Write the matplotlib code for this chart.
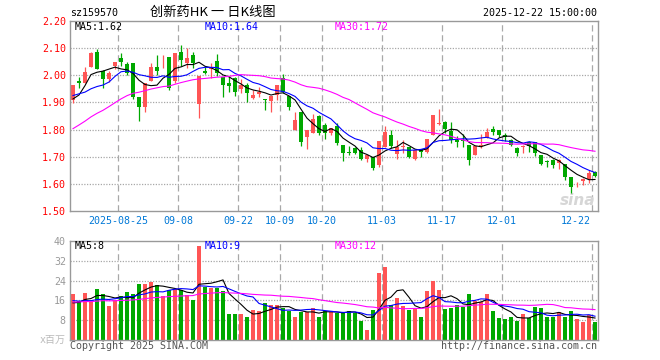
import matplotlib
matplotlib.use("Agg")
import matplotlib.pyplot as plt
import numpy as np
import pandas as pd

# daily K-line, 2025-08-13 .. 2025-12-22 (88 sessions)
open_ = [1.909, 1.980, 1.970, 2.029, 2.087, 2.016, 1.987, 2.034, 2.065, 2.042,
         2.046, 1.919, 1.884, 1.980, 2.029, 2.044, 2.069, 1.980, 2.087, 2.044,
         2.075, 1.896, 2.017, 2.022, 2.052, 1.992, 1.973, 1.989, 1.949, 1.966,
         1.917, 1.930, 1.910, 1.906, 1.927, 1.989, 1.925, 1.798, 1.866, 1.771,
         1.788, 1.850, 1.817, 1.786, 1.813, 1.743, 1.719, 1.733, 1.725, 1.692,
         1.700, 1.670, 1.735, 1.780, 1.710, 1.735, 1.737, 1.692, 1.727, 1.716,
         1.780, 1.821, 1.827, 1.796, 1.763, 1.762, 1.742, 1.705, 1.738, 1.769,
         1.802, 1.798, 1.780, 1.761, 1.731, 1.734, 1.755, 1.755, 1.706, 1.686,
         1.688, 1.678, 1.673, 1.624, 1.602, 1.612, 1.617, 1.645]
high = [1.966, 1.995, 2.032, 2.087, 2.097, 2.018, 2.016, 2.049, 2.081, 2.050,
        2.046, 1.919, 1.970, 2.044, 2.075, 2.075, 2.069, 2.081, 2.112, 2.099,
        2.085, 1.997, 2.034, 2.046, 2.078, 1.992, 1.997, 1.995, 1.985, 1.973,
        1.946, 1.958, 1.912, 1.925, 1.964, 2.005, 1.925, 1.866, 1.866, 1.798,
        1.857, 1.853, 1.823, 1.805, 1.823, 1.743, 1.740, 1.735, 1.735, 1.706,
        1.700, 1.758, 1.815, 1.799, 1.762, 1.762, 1.737, 1.725, 1.727, 1.766,
        1.854, 1.874, 1.833, 1.828, 1.775, 1.783, 1.742, 1.740, 1.782, 1.806,
        1.813, 1.798, 1.788, 1.767, 1.737, 1.743, 1.759, 1.755, 1.706, 1.688,
        1.690, 1.690, 1.673, 1.624, 1.608, 1.620, 1.651, 1.649]
low = [1.899, 1.954, 1.970, 2.029, 2.023, 1.952, 1.976, 2.024, 2.034, 2.000,
       1.911, 1.833, 1.866, 1.980, 2.001, 2.026, 1.946, 1.970, 2.034, 2.026,
       2.026, 1.841, 2.005, 1.989, 1.997, 1.921, 1.939, 1.925, 1.936, 1.903,
       1.912, 1.921, 1.872, 1.866, 1.909, 1.935, 1.872, 1.798, 1.739, 1.728,
       1.788, 1.780, 1.767, 1.780, 1.743, 1.686, 1.706, 1.709, 1.688, 1.682,
       1.651, 1.661, 1.735, 1.731, 1.692, 1.713, 1.697, 1.688, 1.698, 1.713,
       1.780, 1.817, 1.786, 1.750, 1.735, 1.735, 1.670, 1.705, 1.732, 1.769,
       1.780, 1.771, 1.759, 1.739, 1.702, 1.715, 1.718, 1.702, 1.670, 1.661,
       1.657, 1.653, 1.616, 1.565, 1.589, 1.596, 1.604, 1.624]
close = [1.964, 1.973, 2.013, 2.083, 2.023, 1.985, 2.010, 2.049, 2.050, 2.007,
         1.919, 1.884, 1.970, 2.029, 2.017, 2.046, 1.954, 2.081, 2.056, 2.062,
         2.044, 1.997, 2.007, 2.029, 2.009, 1.964, 1.962, 1.939, 1.966, 1.936,
         1.927, 1.939, 1.909, 1.925, 1.964, 1.940, 1.882, 1.835, 1.755, 1.798,
         1.839, 1.788, 1.786, 1.805, 1.749, 1.715, 1.713, 1.715, 1.692, 1.706,
         1.660, 1.758, 1.790, 1.740, 1.735, 1.740, 1.700, 1.725, 1.716, 1.765,
         1.854, 1.824, 1.801, 1.763, 1.754, 1.758, 1.689, 1.738, 1.745, 1.791,
         1.792, 1.780, 1.771, 1.743, 1.712, 1.739, 1.739, 1.712, 1.673, 1.682,
         1.669, 1.688, 1.624, 1.589, 1.605, 1.617, 1.641, 1.629]
# volume, millions
volume = [18.6, 15.7, 19.1, 15.9, 20.6, 18.6, 13.7, 16.1, 17.8, 19.4,
          18.6, 22.7, 22.7, 23.5, 22.3, 17.6, 20.2, 20.5, 20.2, 18.0,
          16.1, 37.8, 21.6, 21.2, 21.0, 19.8, 10.4, 10.4, 10.4, 9.2,
          12.0, 11.6, 14.8, 14.1, 14.0, 12.9, 11.6, 9.2, 11.5, 11.5,
          12.9, 9.2, 11.9, 11.5, 11.1, 11.1, 11.6, 11.1, 7.7, 3.9,
          12.0, 27.1, 29.6, 14.1, 16.9, 13.7, 12.0, 12.6, 9.2, 19.8,
          23.9, 20.2, 12.5, 12.9, 14.0, 13.3, 18.6, 15.7, 15.3, 18.6,
          11.6, 8.8, 8.4, 9.2, 7.7, 10.4, 8.8, 13.3, 12.9, 9.2,
          9.2, 11.2, 9.2, 11.6, 8.4, 7.2, 10.0, 7.2]

# sessions before the window, estimated from where the MA lines start
warmup_close = [1.57, 1.59, 1.61, 1.63, 1.65, 1.60, 1.62, 1.63, 1.65, 1.66,
                1.76, 1.80, 1.85, 1.88, 1.91, 1.90, 1.88, 1.87, 1.90, 1.89,
                1.91, 1.95, 1.96, 1.94, 1.93, 1.90, 1.84, 1.88, 1.98]
warmup_volume = [15, 14, 16, 15, 13, 16, 15, 14, 17, 15,
                 16, 14, 15, 16, 13, 15, 17, 16, 15, 14,
                 18, 17, 16, 16, 17, 15, 13, 14, 14.5]

tick_idx = [8, 18, 28, 35, 42, 52, 62, 72, 87]
tick_labels = ["2025-08-25", "09-08", "09-22", "10-09", "10-20",
               "11-03", "11-17", "12-01", "12-22"]
price_ticks = [1.50, 1.60, 1.70, 1.80, 1.90, 2.00, 2.10, 2.20]
vol_ticks = [8, 16, 24, 32, 40]

RED, GREEN = "#ff5555", "#00a800"
GRID = "#a8a8a8"
MONO = ["DejaVu Sans Mono", "Noto Sans CJK SC"]
FS = 7.2

n = len(close)
x = np.arange(n)
o, h, l, c = map(np.array, (open_, high, low, close))
cols = np.where(c >= o, RED, GREEN)

cs = pd.Series(warmup_close + close)
vs = pd.Series(warmup_volume + volume)
ma = {k: cs.rolling(k).mean().values[-n:] for k in (5, 10, 30)}
vma = {k: vs.rolling(k).mean().values[-n:] for k in (5, 10, 30)}
ma_cols = {5: "black", 10: "#0000ff", 30: "#ff00ff"}

W, H = 660, 360
fig = plt.figure(figsize=(W / 100, H / 100), dpi=100)
fx = lambda px: px / W
fy = lambda py: 1 - py / H

ax = fig.add_axes([fx(70), fy(211), 528 / W, 190 / H])
axv = fig.add_axes([fx(70), fy(340), 528 / W, 99 / H])

for a in (ax, axv):
    a.set_xlim(-0.5, n - 0.5)
    for s in a.spines.values():
        s.set_color("#999999")
        s.set_linewidth(1)
    a.tick_params(length=0, pad=3)
    a.set_xticks([])
    for t in tick_idx:
        a.axvline(t - 0.5, color=GRID, lw=0.9, ls=(0, (5, 3)), zorder=0)

# price panel
ax.set_ylim(1.50, 2.20)
ax.set_yticks(price_ticks)
ax.set_yticklabels([f"{v:.2f}" for v in price_ticks], color="#ff0000",
                   family=MONO, fontsize=FS)
for v in price_ticks[1:-1]:
    ax.axhline(v, color=GRID, lw=0.9, ls=(0, (1, 1.2)), zorder=0)
ax.vlines(x, l, h, colors=cols, lw=0.9, zorder=2)
ax.bar(x, np.maximum(np.abs(c - o), 0.003), bottom=np.minimum(o, c),
       width=0.8, color=cols, lw=0, zorder=2)
for k in (5, 10, 30):
    ax.plot(x, ma[k], color=ma_cols[k], lw=0.8, zorder=3)

for t, lab in zip(tick_idx, tick_labels):
    ha = "right" if t == tick_idx[-1] else "center"
    xt = t - 0.5 + (-0.2 if ha == "right" else 0)
    ax.text(xt, -0.053, lab, transform=ax.get_xaxis_transform(), ha=ha,
            va="center", color="#0078d7", family=MONO, fontsize=FS)

ax.text(0.995, 0.055, "sina", transform=ax.transAxes, ha="right", va="center",
        fontsize=11, style="italic", weight="bold", color="#d6d6d6", zorder=1)

# volume panel
axv.set_ylim(0, 40)
axv.set_yticks(vol_ticks)
axv.set_yticklabels([str(v) for v in vol_ticks], color="#999999",
                    family=MONO, fontsize=FS)
for v in vol_ticks[:-1]:
    axv.axhline(v, color=GRID, lw=0.9, ls=(0, (1, 1.2)), zorder=0)
axv.bar(x, volume, width=0.8, color=cols, lw=0, zorder=2)
for k in (5, 10, 30):
    axv.plot(x, vma[k], color=ma_cols[k], lw=0.8, zorder=3)

# header / legends
fig.text(fx(70), fy(13), "sz159570", family=MONO, fontsize=FS, va="center")
fig.text(fx(213), fy(12), "创新药HK 一 日K线图", family=["Noto Sans CJK SC"],
         fontsize=9.5, ha="center", va="center")
fig.text(fx(597), fy(13), "2025-12-22 15:00:00", family=MONO, fontsize=FS,
         ha="right", va="center")
for k, xp in ((5, 75), (10, 205), (30, 335)):
    fig.text(fx(xp), fy(27), f"MA{k}:{ma[k][-1]:.2f}", color=ma_cols[k],
             family=MONO, fontsize=FS, va="center")
    fig.text(fx(xp), fy(246), f"MA{k}:{int(vma[k][-1])}", color=ma_cols[k],
             family=MONO, fontsize=FS, va="center")

fig.text(fx(66), fy(340), "x百万", family=MONO, fontsize=FS, color="#bbbbbb",
         ha="right", va="center")
fig.text(fx(70), fy(346), "Copyright 2025 SINA.COM", family=MONO, fontsize=FS,
         color="#555555", va="center")
fig.text(fx(597), fy(346), "http://finance.sina.com.cn", family=MONO,
         fontsize=FS, color="#555555", ha="right", va="center")

fig.savefig("out.png", dpi=100)
